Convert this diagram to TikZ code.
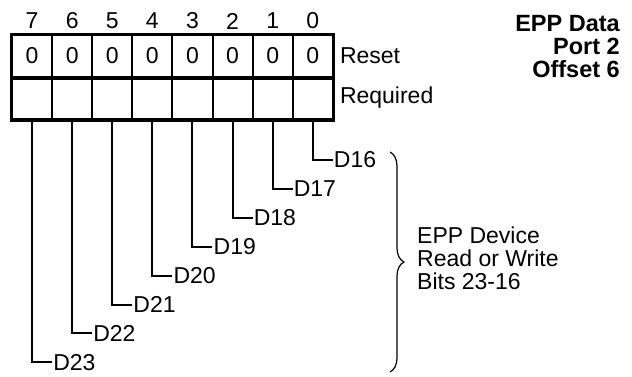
\documentclass[tikz,border=0pt]{standalone}
\usepackage{fontspec}
\setmainfont{Liberation Sans}
\usetikzlibrary{positioning,decorations.pathreplacing}
\newcommand{\regfont}{\fontsize{23}{23}\selectfont}
\tikzset{
  cell/.style={draw, line width=2pt, minimum width=40.1pt, minimum height=42pt,
               inner sep=0pt, font=\regfont},
  bitnum/.style={inner sep=0pt, font=\regfont},
  rowlbl/.style={inner sep=0pt, font=\regfont},
  siglbl/.style={anchor=west, inner sep=1pt, font=\regfont},
  regtitle/.style={align=right, inner sep=0pt, font=\fontsize{23.5}{23}\selectfont\bfseries},
  grpnote/.style={align=left, inner sep=0pt, font=\regfont},
  frame/.style={line width=3pt},
  bitline/.style={line width=2pt},
  grp/.style={decorate, decoration={brace, amplitude=14pt}, line width=1.2pt},
}
\begin{document}
\begin{tikzpicture}[x=1pt, y=-1pt]
  \useasboundingbox (0,0) rectangle (632,376);
  % register cells, bit 7 on the left
  \foreach \b [count=\k from 0] in {7,...,0} {
    \node[cell] (s\b) at ({12+40.1*(\k+0.5)}, 56) {0};
    \node[cell] (r\b) at ({12+40.1*(\k+0.5)}, 98) {};
    \node[bitnum] (h\b) at ({12+40.1*(\k+0.5)}, 21) {\b};
  }
  \draw[frame] (s7.north west) rectangle (r0.south east);
  \draw[frame] (s7.south west) -- (s0.south east);
  \node[rowlbl, right=6pt of s0] (reset) {Reset};
  \node[rowlbl, right=6pt of r0] (reqd) {Required};
  \node[regtitle, anchor=north east] (ttl) at (620,15) {EPP Data\\Port 2\\Offset 6};
  % data lines
  \foreach \b [count=\i from 0] in {0,...,7} {
    \pgfmathtruncatemacro\dn{16+\b}
    \node[siglbl] (d\b) at ({12+40.1*(7-\i+0.5)+20}, {160+28.9*\i}) {D\dn};
    \draw[bitline] (r\b.south) |- (d\b.west);
  }
  \coordinate (bt) at (390,152);
  \coordinate (bb) at (390,372);
  \draw[grp] (bt) -- (bb);
  \node[grpnote, anchor=west] (desc) at (417,258) {EPP Device\\Read or Write\\Bits 23-16};
\end{tikzpicture}
\end{document}
